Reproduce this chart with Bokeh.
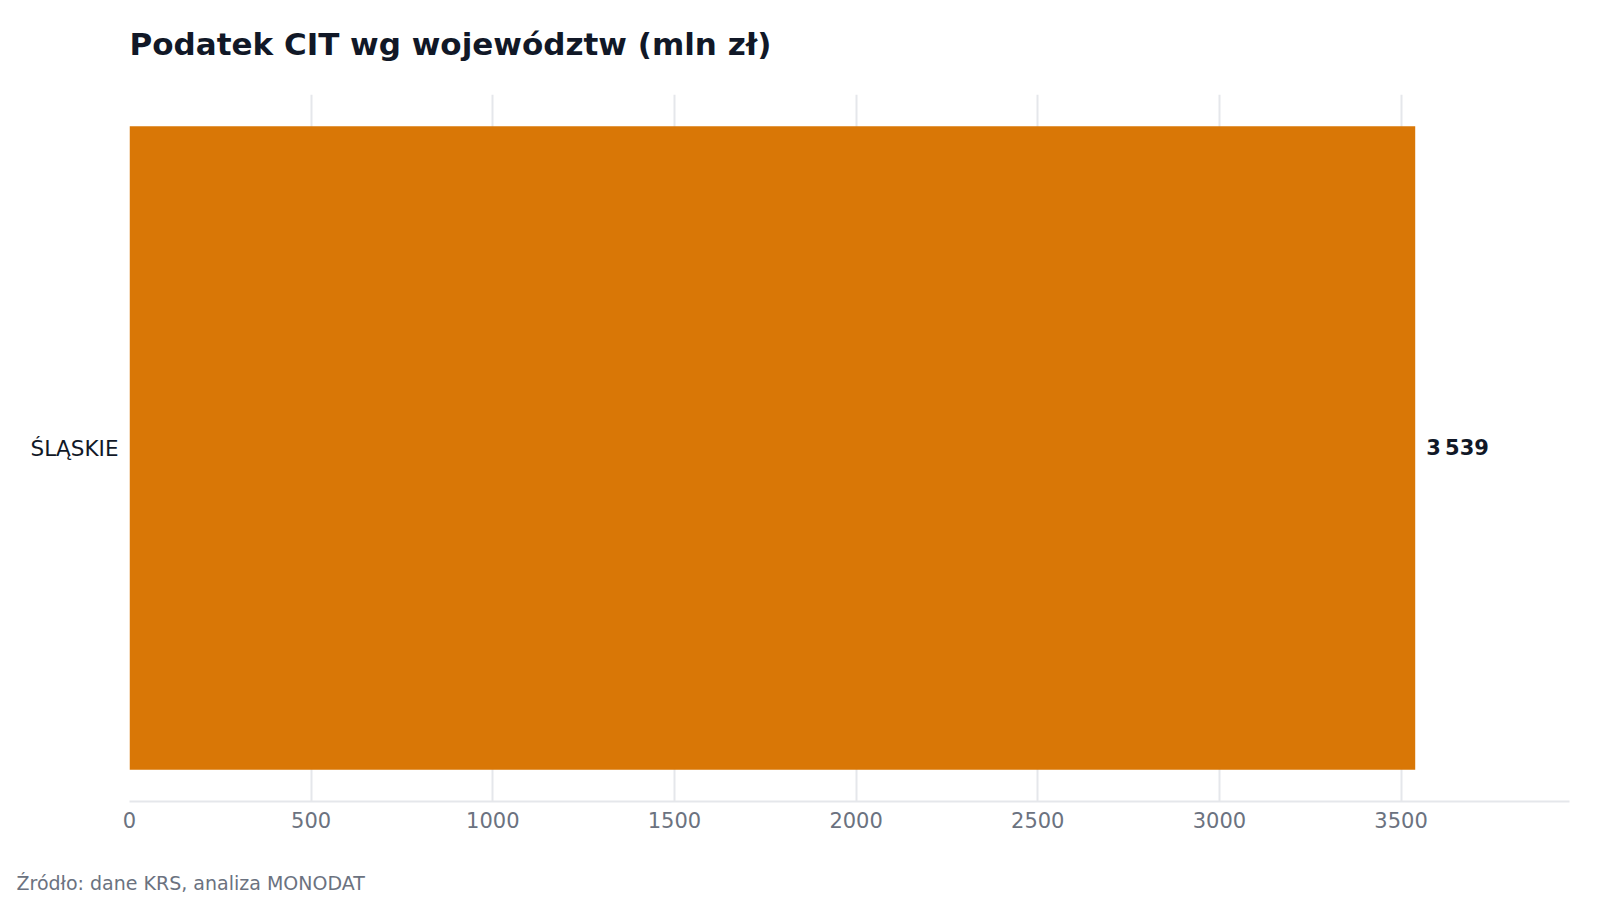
from bokeh.plotting import figure
from bokeh.models import Range1d, FactorRange, FixedTicker, Title, ColumnDataSource
from bokeh.core.properties import value
from bokeh.embed import file_html
from bokeh.resources import INLINE

categories = ["ŚLĄSKIE"]
cit_values = [3539]
x_ticks = [0, 500, 1000, 1500, 2000, 2500, 3000, 3500]
title_text = "Podatek CIT wg województw (mln zł)"
source_text = "Źródło: dane KRS, analiza MONODAT"

FONT = "DejaVu Sans"
W, H = 1584, 893
BL, BR, BT, BB = 129, 15, 94, 91

labels = [f"{v:,}".replace(",", "\u202f") for v in cit_values]
src = ColumnDataSource(dict(cat=categories, val=cit_values, lab=labels))

p = figure(width=W, height=H, output_backend="svg", toolbar_location=None,
           y_range=FactorRange(factors=categories),
           x_range=Range1d(0, max(cit_values) * 1.12),
           min_border_left=BL, min_border_right=BR, min_border_top=BT, min_border_bottom=BB)
p.outline_line_color = None
p.background_fill_color = "white"
p.border_fill_color = "white"

p.hbar(y="cat", right="val", left=0, height=0.91, source=src,
       fill_color="#d97706", line_color=None)
p.text(x="val", y="cat", text="lab", source=src, x_offset=11,
       text_baseline="middle", text_align="left",
       text_font=value(FONT), text_font_size="21px", text_font_style="bold",
       text_color="#111827")

p.xaxis.ticker = FixedTicker(ticks=x_ticks)
p.xaxis.axis_line_color = "#e5e7eb"
p.xaxis.axis_line_width = 2
p.xaxis.major_tick_line_color = None
p.xaxis.minor_tick_line_color = None
p.xaxis.major_label_text_font = FONT
p.xaxis.major_label_text_font_size = "21px"
p.xaxis.major_label_text_color = "#6b7280"
p.xaxis.major_label_standoff = 4

p.yaxis.axis_line_color = None
p.yaxis.major_tick_line_color = None
p.yaxis.minor_tick_line_color = None
p.yaxis.major_label_text_font = FONT
p.yaxis.major_label_text_font_size = "21.5px"
p.yaxis.major_label_text_color = "#111827"
p.yaxis.major_label_standoff = 5

p.xgrid.grid_line_color = "#e5e7eb"
p.xgrid.grid_line_width = 2
p.ygrid.grid_line_color = None

p.title.text = ""
p.title.standoff = 0

# spacer between frame and title (closest to frame), then the title itself
p.add_layout(Title(text=" ", text_font_size="1px", standoff=30), "above")
p.add_layout(Title(text=title_text, align="left", standoff=0,
                   text_font=FONT, text_font_size="31px", text_font_style="bold",
                   text_color="#111827"), "above")

# spacer between axis and footnote
p.add_layout(Title(text=" ", text_font_size="1px", standoff=36), "below")
p.add_layout(Title(text=source_text, align="left", offset=16 - BL, standoff=0,
                   text_font=FONT, text_font_size="19px", text_font_style="normal",
                   text_color="#6b7280"), "below")

open("out.html", "w").write(file_html(p, INLINE))
